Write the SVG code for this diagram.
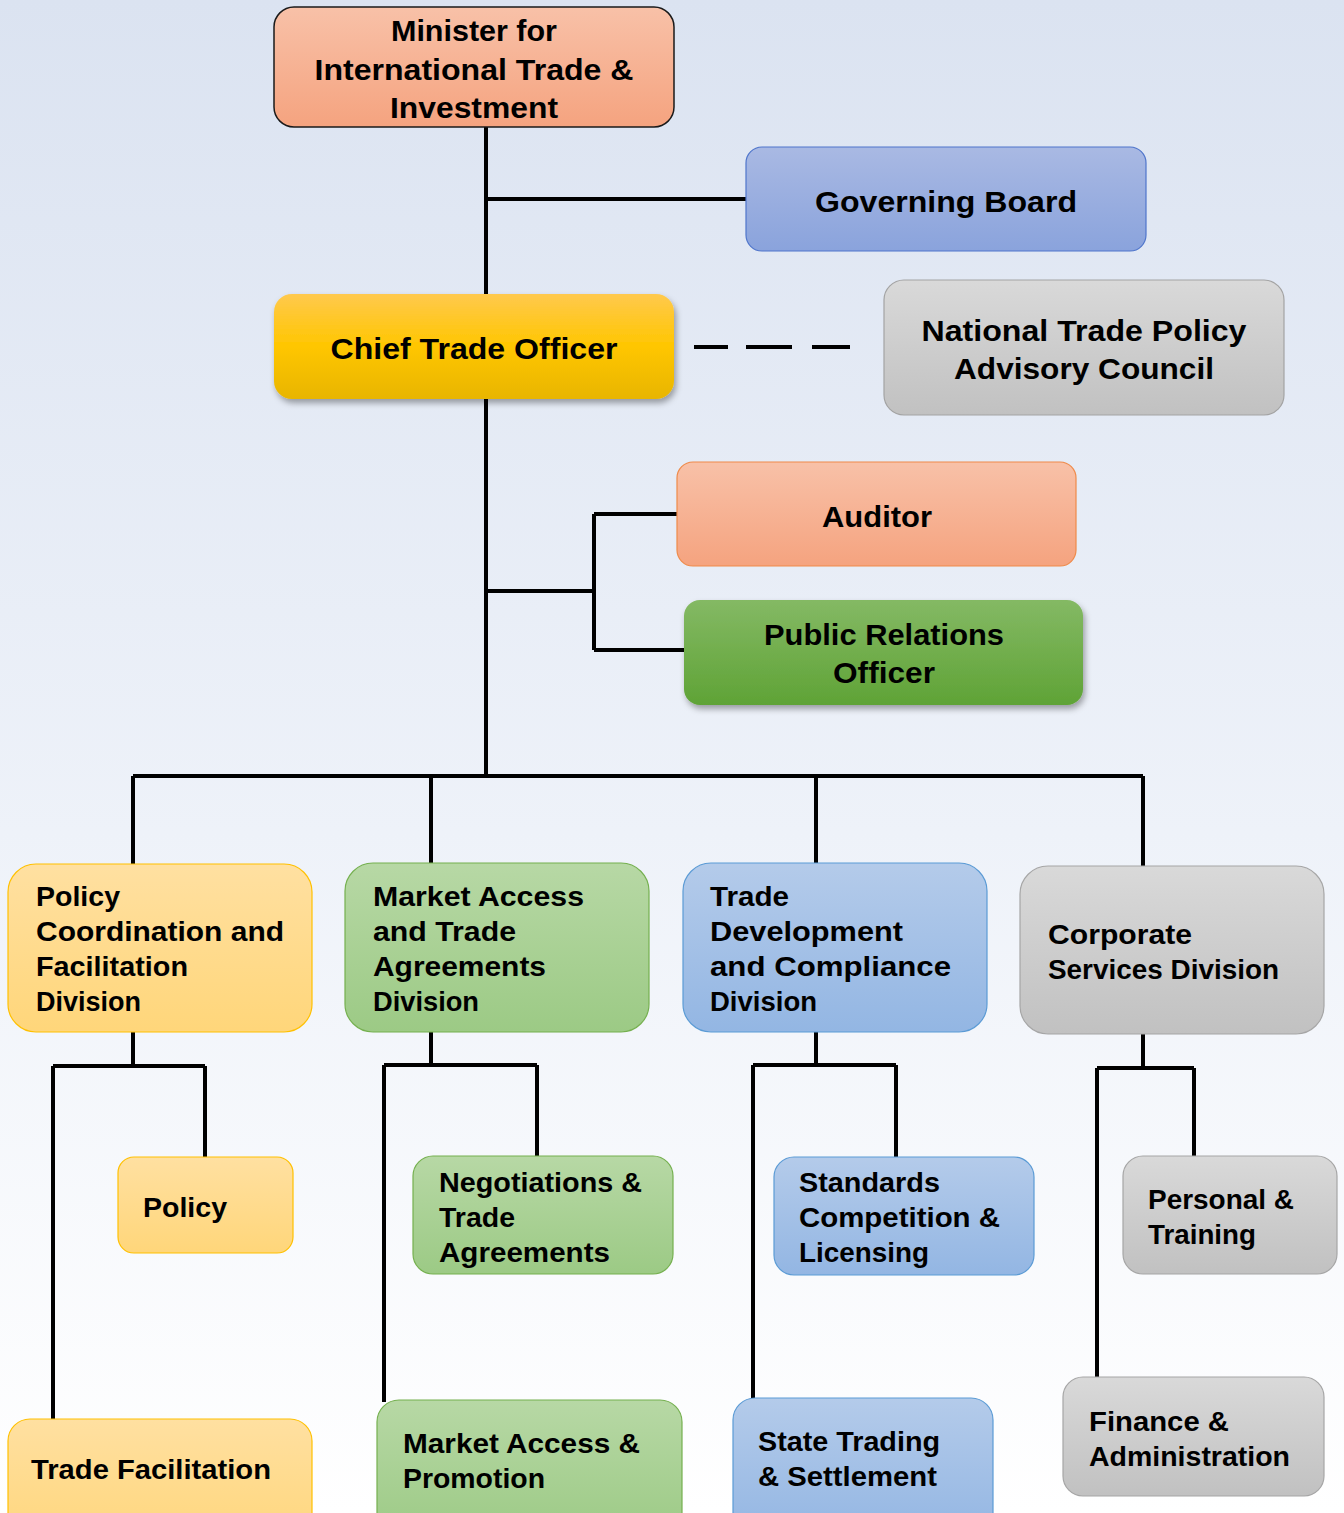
<svg xmlns="http://www.w3.org/2000/svg" width="1344" height="1513" viewBox="0 0 1344 1513">
<defs>
<linearGradient id="bg" x1="0" y1="0" x2="0" y2="1">
<stop offset="0" stop-color="#dbe3f1"/><stop offset="0.55" stop-color="#eef2f9"/><stop offset="1" stop-color="#ffffff"/>
</linearGradient>
<linearGradient id="gSalmon" x1="0" y1="0" x2="0" y2="1"><stop offset="0" stop-color="#f8c1a8"/><stop offset="1" stop-color="#f5a37f"/></linearGradient>
<linearGradient id="gBoard" x1="0" y1="0" x2="0" y2="1"><stop offset="0" stop-color="#a9b9e3"/><stop offset="1" stop-color="#8aa3dc"/></linearGradient>
<linearGradient id="gCto" x1="0" y1="0" x2="0" y2="1"><stop offset="0" stop-color="#ffc94d"/><stop offset="0.5" stop-color="#ffc600"/><stop offset="1" stop-color="#e8b500"/></linearGradient>
<linearGradient id="gGray" x1="0" y1="0" x2="0" y2="1"><stop offset="0" stop-color="#d9d9d9"/><stop offset="1" stop-color="#c1c1c1"/></linearGradient>
<linearGradient id="gPr" x1="0" y1="0" x2="0" y2="1"><stop offset="0" stop-color="#84b964"/><stop offset="1" stop-color="#5fa336"/></linearGradient>
<linearGradient id="gLY" x1="0" y1="0" x2="0" y2="1"><stop offset="0" stop-color="#ffe0a1"/><stop offset="1" stop-color="#ffd67a"/></linearGradient>
<linearGradient id="gLG" x1="0" y1="0" x2="0" y2="1"><stop offset="0" stop-color="#b7d8a5"/><stop offset="1" stop-color="#9cca85"/></linearGradient>
<linearGradient id="gLB" x1="0" y1="0" x2="0" y2="1"><stop offset="0" stop-color="#b4cbea"/><stop offset="1" stop-color="#93b6e3"/></linearGradient>
<filter id="sh" x="-10%" y="-10%" width="120%" height="130%">
<feDropShadow dx="2" dy="4" stdDeviation="3" flood-color="#000" flood-opacity="0.35"/>
</filter>
</defs>
<style>
text{font-family:"Liberation Sans","DejaVu Sans",Arial,sans-serif;font-weight:bold;fill:#000;}
.t{font-size:30px;}
.s{font-size:28px;}
.c{text-anchor:middle;}
.ln{stroke:#000;stroke-width:4;fill:none;}
</style>
<rect x="0" y="0" width="1344" height="1513" fill="url(#bg)"/>

<g id="connectors">
<path class="ln" d="M486 127V776M486 199H746M486 591H594M594 514V650M594 514H677M594 650H684"/>
<path class="ln" d="M694 347H850" stroke-dasharray="34 18 46 20 38 0" stroke-width="4"/>
<path class="ln" d="M133 776H1143M133 776V864M431 776V863M816 776V863M1143 776V866"/>
<path class="ln" d="M133 1032V1066M53 1066H205M205 1066V1157M53 1066V1419"/>
<path class="ln" d="M431 1032V1065M384 1065H537M537 1065V1156M384 1065V1402"/>
<path class="ln" d="M816 1032V1065M753 1065H896M896 1065V1157M753 1065V1398"/>
<path class="ln" d="M1143 1034V1068M1097 1068H1194M1194 1068V1156M1097 1068V1377"/>
</g>

<g id="minister">
<rect x="274" y="7" width="400" height="120" rx="20" fill="url(#gSalmon)" stroke="#1a1a1a" stroke-width="1.5"/>
<text class="t c" x="474" y="41" textLength="166" lengthAdjust="spacingAndGlyphs">Minister for</text>
<text class="t c" x="474" y="80" textLength="319" lengthAdjust="spacingAndGlyphs">International Trade &amp;</text>
<text class="t c" x="474" y="118" textLength="168" lengthAdjust="spacingAndGlyphs">Investment</text>
</g>

<g id="governing-board">
<rect x="746" y="147" width="400" height="104" rx="16" fill="url(#gBoard)" stroke="#4f75cb" stroke-width="1.2"/>
<text class="t c" x="946" y="212" textLength="262" lengthAdjust="spacingAndGlyphs">Governing Board</text>
</g>

<g id="chief-trade-officer">
<rect x="274" y="294" width="400" height="105" rx="18" fill="url(#gCto)" filter="url(#sh)"/>
<text class="t c" x="474" y="359" textLength="287" lengthAdjust="spacingAndGlyphs">Chief Trade Officer</text>
</g>

<g id="advisory-council">
<rect x="884" y="280" width="400" height="135" rx="20" fill="url(#gGray)" stroke="#a3a3a3" stroke-width="1.2"/>
<text class="t c" x="1084" y="341" textLength="325" lengthAdjust="spacingAndGlyphs">National Trade Policy</text>
<text class="t c" x="1084" y="379" textLength="260" lengthAdjust="spacingAndGlyphs">Advisory Council</text>
</g>

<g id="auditor">
<rect x="677" y="462" width="399" height="104" rx="16" fill="url(#gSalmon)" stroke="#ef8a4a" stroke-width="1.2"/>
<text class="t c" x="877" y="527" textLength="110" lengthAdjust="spacingAndGlyphs">Auditor</text>
</g>

<g id="public-relations">
<rect x="684" y="600" width="399" height="105" rx="16" fill="url(#gPr)" filter="url(#sh)"/>
<text class="t c" x="884" y="645" textLength="240" lengthAdjust="spacingAndGlyphs">Public Relations</text>
<text class="t c" x="884" y="683" textLength="102" lengthAdjust="spacingAndGlyphs">Officer</text>
</g>

<g id="div-policy-coordination">
<rect x="8" y="864" width="304" height="168" rx="28" fill="url(#gLY)" stroke="#ffc000" stroke-width="1.2"/>
<text class="s" x="36" y="906" textLength="84" lengthAdjust="spacingAndGlyphs">Policy</text>
<text class="s" x="36" y="941" textLength="248" lengthAdjust="spacingAndGlyphs">Coordination and</text>
<text class="s" x="36" y="976" textLength="152" lengthAdjust="spacingAndGlyphs">Facilitation</text>
<text class="s" x="36" y="1011" textLength="105" lengthAdjust="spacingAndGlyphs">Division</text>
</g>

<g id="div-market-access">
<rect x="345" y="863" width="304" height="169" rx="28" fill="url(#gLG)" stroke="#75b04f" stroke-width="1.2"/>
<text class="s" x="373" y="906" textLength="211" lengthAdjust="spacingAndGlyphs">Market Access</text>
<text class="s" x="373" y="941" textLength="143" lengthAdjust="spacingAndGlyphs">and Trade</text>
<text class="s" x="373" y="976" textLength="173" lengthAdjust="spacingAndGlyphs">Agreements</text>
<text class="s" x="373" y="1011" textLength="106" lengthAdjust="spacingAndGlyphs">Division</text>
</g>

<g id="div-trade-development">
<rect x="683" y="863" width="304" height="169" rx="28" fill="url(#gLB)" stroke="#5b9bd5" stroke-width="1.2"/>
<text class="s" x="710" y="906" textLength="79" lengthAdjust="spacingAndGlyphs">Trade</text>
<text class="s" x="710" y="941" textLength="193" lengthAdjust="spacingAndGlyphs">Development</text>
<text class="s" x="710" y="976" textLength="241" lengthAdjust="spacingAndGlyphs">and Compliance</text>
<text class="s" x="710" y="1011" textLength="107" lengthAdjust="spacingAndGlyphs">Division</text>
</g>

<g id="div-corporate-services">
<rect x="1020" y="866" width="304" height="168" rx="28" fill="url(#gGray)" stroke="#a6a6a6" stroke-width="1.2"/>
<text class="s" x="1048" y="944" textLength="144" lengthAdjust="spacingAndGlyphs">Corporate</text>
<text class="s" x="1048" y="979" textLength="231" lengthAdjust="spacingAndGlyphs">Services Division</text>
</g>

<g id="policy">
<rect x="118" y="1157" width="175" height="96" rx="16" fill="url(#gLY)" stroke="#ffc000" stroke-width="1.2"/>
<text class="s" x="143" y="1217" textLength="84" lengthAdjust="spacingAndGlyphs">Policy</text>
</g>

<g id="trade-facilitation">
<rect x="8" y="1419" width="304" height="130" rx="22" fill="url(#gLY)" stroke="#ffc000" stroke-width="1.2"/>
<text class="s" x="31" y="1479" textLength="240" lengthAdjust="spacingAndGlyphs">Trade Facilitation</text>
</g>

<g id="negotiations">
<rect x="413" y="1156" width="260" height="118" rx="20" fill="url(#gLG)" stroke="#75b04f" stroke-width="1.2"/>
<text class="s" x="439" y="1192" textLength="203" lengthAdjust="spacingAndGlyphs">Negotiations &amp;</text>
<text class="s" x="439" y="1227" textLength="76" lengthAdjust="spacingAndGlyphs">Trade</text>
<text class="s" x="439" y="1262" textLength="171" lengthAdjust="spacingAndGlyphs">Agreements</text>
</g>

<g id="market-access-promotion">
<rect x="377" y="1400" width="305" height="140" rx="22" fill="url(#gLG)" stroke="#75b04f" stroke-width="1.2"/>
<text class="s" x="403" y="1453" textLength="237" lengthAdjust="spacingAndGlyphs">Market Access &amp;</text>
<text class="s" x="403" y="1488" textLength="142" lengthAdjust="spacingAndGlyphs">Promotion</text>
</g>

<g id="standards">
<rect x="774" y="1157" width="260" height="118" rx="20" fill="url(#gLB)" stroke="#5b9bd5" stroke-width="1.2"/>
<text class="s" x="799" y="1192" textLength="141" lengthAdjust="spacingAndGlyphs">Standards</text>
<text class="s" x="799" y="1227" textLength="201" lengthAdjust="spacingAndGlyphs">Competition &amp;</text>
<text class="s" x="799" y="1262" textLength="130" lengthAdjust="spacingAndGlyphs">Licensing</text>
</g>

<g id="state-trading">
<rect x="733" y="1398" width="260" height="140" rx="22" fill="url(#gLB)" stroke="#5b9bd5" stroke-width="1.2"/>
<text class="s" x="758" y="1451" textLength="182" lengthAdjust="spacingAndGlyphs">State Trading</text>
<text class="s" x="758" y="1486" textLength="179" lengthAdjust="spacingAndGlyphs">&amp; Settlement</text>
</g>

<g id="personal-training">
<rect x="1123" y="1156" width="214" height="118" rx="20" fill="url(#gGray)" stroke="#a6a6a6" stroke-width="1.2"/>
<text class="s" x="1148" y="1209" textLength="146" lengthAdjust="spacingAndGlyphs">Personal &amp;</text>
<text class="s" x="1148" y="1244" textLength="108" lengthAdjust="spacingAndGlyphs">Training</text>
</g>

<g id="finance-administration">
<rect x="1063" y="1377" width="261" height="119" rx="20" fill="url(#gGray)" stroke="#a6a6a6" stroke-width="1.2"/>
<text class="s" x="1089" y="1431" textLength="140" lengthAdjust="spacingAndGlyphs">Finance &amp;</text>
<text class="s" x="1089" y="1466" textLength="201" lengthAdjust="spacingAndGlyphs">Administration</text>
</g>
</svg>
